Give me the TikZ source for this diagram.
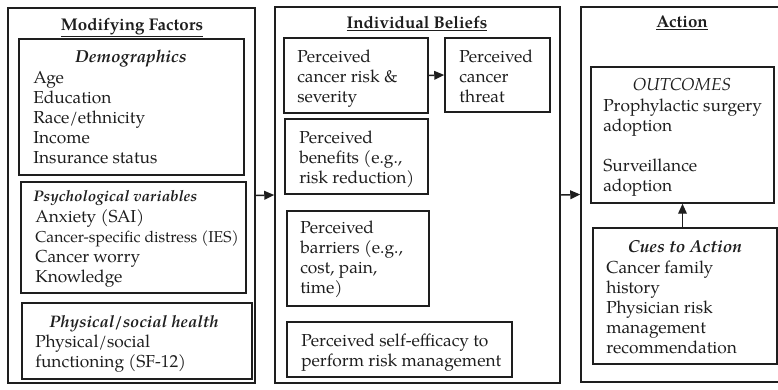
\documentclass[tikz,border=0pt]{standalone}
\usepackage{fontspec}
\setmainfont{TeX Gyre Pagella}
\usetikzlibrary{arrows.meta,fit}
\definecolor{ink}{RGB}{30,30,30}
\newcommand\mylines[1]{\begin{tabular}[t]{@{}l@{}}#1\end{tabular}}
\tikzset{
  box/.style={draw=ink, line width=1.1pt, inner sep=0pt},
  txt/.style={anchor=base west, inner sep=0pt, text=ink, font=\fontsize{13}{15}\selectfont},
  ttl/.style={anchor=base, inner sep=0pt, text=ink, font=\fontsize{12.7}{15}\selectfont\bfseries},
  hd/.style={anchor=base, inner sep=0pt, text=ink, font=\fontsize{13}{15}\selectfont\bfseries\itshape},
  arr/.style={draw=ink, line width=1.1pt, -{Triangle[length=7.5pt,width=6.5pt]}},
}
\begin{document}
\begin{tikzpicture}[x=0.75pt,y=-0.75pt]
\useasboundingbox (0,0) rectangle (778,389);
\clip (0,0) rectangle (778,389);
% outer boxes
\node[box, fit={(8,8) (255,383)}] (L) {};
\node[box, fit={(275,7) (560,383)}] (M) {};
\node[box, fit={(581,7) (790,382)}] (R) {};
% left inner boxes
\node[box, fit={(19,39) (244,175)}] (demo) {};
\node[box, fit={(21,182) (246,293)}] (psych) {};
\node[box, fit={(22,303) (252,379)}] (phys) {};
% middle inner boxes
\node[box, fit={(284,38) (428,113)}] (risk) {};
\node[box, fit={(445,38) (550,112)}] (threat) {};
\node[box, fit={(285,119) (428,194)}] (benef) {};
\node[box, fit={(287,211) (429,306)}] (barr) {};
\node[box, fit={(287,322) (512,377)}] (self) {};
% right inner boxes
\node[box, fit={(591,67) (774,203)}] (outc) {};
\node[box, fit={(593,228) (777,364)}] (cues) {};
% titles
\node[ttl] (tL) at (132,30) {\underline{Modifying Factors}};
\node[ttl] (tM) at (417,28) {\underline{Individual Beliefs}};
\node[ttl] (tR) at (682,27) {\underline{Action}};
% left texts
\node[hd] (hDemo) at (131,62) {Demographics};
\node[txt] (xDemo) at (33,83) {\mylines{Age\\Education\\Race/ethnicity\\Income\\Insurance status}};
\node[hd, anchor=base west, font=\fontsize{11.5}{15}\selectfont\bfseries\itshape] (hPsych) at (33,201) {Psychological variables};
\node[txt] (xPsych) at (35,222) {\mylines{Anxiety (SAI)\\\fontsize{11.8}{15}\selectfont Cancer-specific distress (IES)\\Cancer worry\\Knowledge}};
\node[hd, font=\fontsize{12.5}{15}\selectfont\bfseries\itshape] (hPhys) at (134,327) {Physical/social health};
\node[txt] (xPhys) at (35,347) {\mylines{Physical/social\\functioning (SF-12)}};
% middle texts
\node[txt] (xRisk) at (297,62) {\mylines{Perceived\\cancer risk \&\\severity}};
\node[txt] (xThreat) at (459,62) {\mylines{Perceived\\cancer\\threat}};
\node[txt] (xBenef) at (299,143) {\mylines{Perceived\\benefits (e.g.,\\risk reduction)}};
\node[txt] (xBarr) at (300,233) {\mylines{Perceived\\barriers (e.g.,\\cost, pain,\\time)}};
\node[txt] (xSelf) at (301,346) {\mylines{Perceived self-efficacy to\\perform risk management}};
% right texts
\node[hd, font=\fontsize{13}{15}\selectfont\itshape] (hOut) at (682,90) {OUTCOMES};
\node[txt] (xOut) at (603,111) {\mylines{Prophylactic surgery\\adoption\\ \\Surveillance\\adoption}};
\node[hd] (hCues) at (685,252) {Cues to Action};
\node[txt] (xCues) at (606,273) {\mylines{Cancer family\\history\\Physician risk\\management\\recommendation}};
% connectors
\draw[arr] (L.east) -- (M.west);
\draw[arr] (M.east) -- (R.west);
\draw[arr] (risk.east) -- (threat.west);
\draw[arr] (outc.south |- cues.north) -- (outc.south);
\end{tikzpicture}
\end{document}
